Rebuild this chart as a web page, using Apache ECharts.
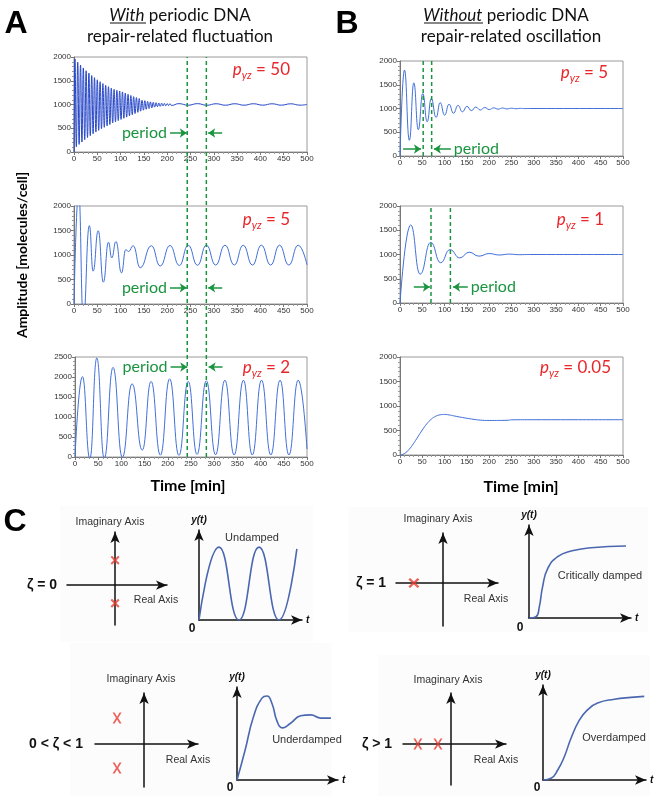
<!DOCTYPE html>
<html><head><meta charset="utf-8">
<script src="https://cdn.jsdelivr.net/npm/echarts@6/dist/echarts.min.js"></script>
<style>html,body{margin:0;padding:0;background:#fff}#c{width:662px;height:802px}</style>
</head><body><div id="c"></div><script>
// ---------- DATA ----------
const timeMax = 500;
// Panel A, p_yz = 50  [time (min), amplitude]
const ampA50 = [[0,0],[2,1960],[5,110],[8,1890],[11,160],[14,1830],[17,210],[20,1770],[23,260],[26,1710],[29,305],[32,1660],[35,345],[38,1610],[41,385],[44,1565],[47,420],[50,1520],[53,455],[56,1480],[59,490],[62,1440],[65,520],[68,1405],[71,550],[74,1375],[77,580],[80,1345],[83,610],[86,1320],[89,635],[92,1300],[95,660],[98,1285],[101,685],[104,1265],[107,710],[110,1240],[113,735],[116,1215],[119,760],[122,1190],[125,785],[128,1165],[131,810],[134,1145],[137,835],[140,1125],[143,860],[146,1090],[149,880],[152,1080],[155,900],[158,1065],[161,915],[164,1055],[167,930],[170,1045],[173,945],[176,1038],[179,955],[182,1032],[185,962],[188,1028],[191,968],[194,1024],[197,973],[200,1020],[203,977],[206,1018],[209,980],[225,1018],[245,985],[265,1018],[285,984],[305,1016],[325,985],[345,1016],[365,985],[385,1016],[405,986],[425,1015],[445,986],[465,1015],[485,986],[500,1000]];
// Panel A, p_yz = 5
const ampA5 = [[0,0],[10,2300],[20,-300],[33,1600],[41,670],[52,1495],[63,445],[74,1260],[81,940],[90,1275],[102,635],[111,1110],[117,1070],[127,1190],[142,740],[166,1190],[185,775],[206,1195],[226,785],[245,1200],[265,790],[284,1200],[304,795],[324,1200],[344,795],[363,1200],[383,795],[402,1200],[422,795],[441,1200],[461,795],[481,1200],[500,800]];
// Panel A, p_yz = 2
const ampA2 = [[0,0],[16,2010],[32,-40],[47,2475],[63,-40],[82,2240],[102,-10],[123,1830],[145,170],[164,1890],[184,45],[204,1955],[224,40],[244,1890],[263,65],[283,1905],[303,55],[323,1920],[343,50],[363,1920],[382,50],[402,1920],[422,50],[442,1920],[461,50],[481,1920],[500,200]];
// Panel B, p_yz = 5
const ampB5 = [[0,0],[10,1810],[21,330],[31,1540],[41,555],[51,1315],[61,720],[70,1210],[81,810],[90,1125],[100,860],[110,1090],[120,900],[130,1065],[140,930],[150,1045],[160,955],[170,1030],[180,968],[190,1020],[200,978],[210,1014],[220,986],[230,1010],[240,991],[250,1006],[260,995],[270,1003],[280,998],[290,1000],[500,1000]];
// Panel B, p_yz = 1
const ampB1 = [[0,0],[24,1610],[45,595],[69,1250],[91,830],[112,1100],[134,930],[155,1047],[177,966],[200,1020],[222,990],[245,1008],[267,996],[290,1000],[500,1000]];
// Panel B, p_yz = 0.05
const ampB005 = [[0,0],[10,30],[20,110],[30,230],[40,370],[50,510],[60,635],[70,730],[80,790],[90,820],[100,828],[110,818],[120,800],[140,765],[160,735],[180,712],[200,705],[240,708],[250,718],[300,720],[400,720],[500,720]];
// period markers (min)
const periodA = [243, 284];
const periodB5 = [52, 71];
const periodB1 = [69.5, 113];
const pyzLabels = ['50', '5', '2', '5', '1', '0.05'];
// Panel C: poles [real, imaginary]
const polesUndamped = [[0, 0.47], [0, -0.34]];
const polesCritical = [[-0.62, 0]];
const polesUnder = [[-0.55, 0.51], [-0.55, -0.47]];
const polesOver = [[-0.69, 0], [-0.27, 0]];
// Panel C: step responses [t, y]
const respUndamped = [[0,0],[1.94,0.81],[3.88,0],[5.83,0.81],[7.77,0],[9.5,0.79]];
const respCritical = [[0,0],[0.69,0.014],[1.01,0.12],[1.34,0.34],[1.83,0.53],[2.81,0.66],[4.12,0.72],[6.08,0.756],[9.51,0.774]];
const respUnder = [[0,0],[0.8,0.32],[1.63,0.68],[2.47,0.88],[2.97,0.903],[3.47,0.82],[3.97,0.63],[4.47,0.56],[5.3,0.61],[6.3,0.69],[7.3,0.70],[8.3,0.665],[9.3,0.665]];
const respOver = [[0,0],[0.78,0.018],[1.43,0.105],[2.07,0.245],[2.72,0.44],[3.53,0.63],[4.34,0.74],[5.3,0.81],[6.93,0.85],[8.55,0.87],[9.83,0.88]];

// ---------- STYLE ----------
const GREEN = '#1b9440', RED = '#e8262a', BLUE = '#4170d8', DARKBLUE = '#2747c8', CBLUE = '#4a67b0';
const TFONT = 'Lato';
const chart = echarts.init(document.getElementById('c'), null, {renderer:'canvas'});

const grids = [
  {left:74, top:57, width:233, height:95},    //0 A50
  {left:74, top:206, width:233, height:98},   //1 A5
  {left:75, top:357, width:232, height:100},  //2 A2
  {left:74, top:57, width:233, height:400},   //3 A overlay
  {left:400, top:61, width:223, height:95},   //4 B5
  {left:400, top:206, width:223, height:97},  //5 B1
  {left:400, top:357, width:223, height:98},  //6 B005
  {left:67, top:532, width:100, height:93},   //7 pole Q1
  {left:396, top:533, width:102, height:93},  //8 pole Q2
  {left:95, top:693, width:103, height:94},   //9 pole Q3
  {left:403, top:693, width:103, height:92},  //10 pole Q4
  {left:199, top:530, width:103, height:90},  //11 y(t) Q1
  {left:529, top:525, width:102, height:93},  //12 y(t) Q2
  {left:237, top:687, width:101, height:93},  //13 y(t) Q3
  {left:543, top:685, width:103, height:95}   //14 y(t) Q4
].map((g,i)=> i<7 && i!==3 ? Object.assign({show:true, borderColor:'#9a9a9a', borderWidth:1, backgroundColor:'#fff'}, g) : g);

const xAxes = [], yAxes = [];
function dataAxes(gi, ymax, show) {
  const common = {
    gridIndex: gi, type:'value', show: show,
    axisLine:{show:true, onZero:false, lineStyle:{color:'#777', width:1}},
    axisTick:{show:true, length:3, lineStyle:{color:'#777'}},
    minorTick:{show:true, splitNumber:5, length:2, lineStyle:{color:'#999'}},
    axisLabel:{fontSize:8, color:'#333', fontFamily:'Liberation Sans', margin:3, showMinLabel:true, showMaxLabel:true,
      formatter: v => String(v)},
    splitLine:{show:false}
  };
  xAxes.push(Object.assign({}, common, {min:0, max:timeMax, interval:50}));
  yAxes.push(Object.assign({}, common, {min:0, max:ymax, interval:500}));
}
dataAxes(0, 2000, true);
dataAxes(1, 2000, true);
dataAxes(2, 2500, true);
dataAxes(3, 1, false);
dataAxes(4, 2000, true);
dataAxes(5, 2000, true);
dataAxes(6, 2000, true);

function poleAxes(gi, xr, yr) {
  const ax = {type:'value', gridIndex:gi,
    axisLine:{show:true, onZero:true, symbol:['none','arrow'], symbolSize:[7,11], lineStyle:{color:'#111', width:1.5}},
    axisTick:{show:false}, axisLabel:{show:false}, splitLine:{show:false}};
  xAxes.push(Object.assign({}, ax, {min:xr[0], max:xr[1]}));
  yAxes.push(Object.assign({}, ax, {min:yr[0], max:yr[1]}));
}
poleAxes(7, [-1, 1.08], [-0.75, 1]);
poleAxes(8, [-1, 1.17], [-0.86, 1]);
poleAxes(9, [-1, 1.1], [-0.84, 1]);
poleAxes(10, [-1, 1.15], [-0.8, 1]);

function respAxes(gi) {
  const ax = {type:'value', gridIndex:gi,
    axisLine:{show:true, onZero:false, symbol:['none','arrow'], symbolSize:[7,11], lineStyle:{color:'#111', width:1.5}},
    axisTick:{show:false}, axisLabel:{show:false}, splitLine:{show:false},
    nameTextStyle:{fontSize:10, fontWeight:'bold', fontStyle:'italic', color:'#111', fontFamily:'Liberation Sans'}};
  xAxes.push(Object.assign({}, ax, {min:0, max:10, name:'t', nameGap:4}));
  yAxes.push(Object.assign({}, ax, {min:0, max:1, name:'y(t)', nameGap:5}));
}
[11,12,13,14].forEach(respAxes);

const series = [];
function tsLine(gi, data, monotone, color) {
  const s = {type:'line', xAxisIndex:gi, yAxisIndex:gi, data:data, showSymbol:false, smooth:true,
    lineStyle:{color:color || BLUE, width:1}, clip:true, silent:true, z:3};
  if (monotone) s.smoothMonotone = 'x';
  series.push(s);
  return s;
}
function vLine(gi, t, top) {
  series.push({type:'line', xAxisIndex:gi, yAxisIndex:gi, data:[[t,0],[t,top]], showSymbol:false,
    lineStyle:{color:GREEN, width:1.5, type:[4,3]}, silent:true, z:4});
}
function arrows(s, yv, right, left, labelOnRight) {
  const lbl = {show:true, position:'start', formatter:'period', color:GREEN, fontSize:16, fontFamily:TFONT, distance:3};
  s.markLine = {silent:true, symbol:['none','arrow'], symbolSize:[7,7], animation:false,
    lineStyle:{color:GREEN, width:1.5, type:'solid'},
    data:[
      [{coord:[right[0], yv], label: labelOnRight ? {show:false} : lbl}, {coord:[right[1], yv]}],
      [{coord:[left[0], yv], label: labelOnRight ? lbl : {show:false}}, {coord:[left[1], yv]}]
    ]};
}
arrows(tsLine(0, ampA50, true, DARKBLUE), 400, [206,242], [318,288], false);
arrows(tsLine(1, ampA5, true), 330, [206,242], [318,288], false);
arrows(tsLine(2, ampA2, true), 2250, [206,242], [318,288], false);
periodA.forEach(t => vLine(3, t, 1));
arrows(tsLine(4, ampB5, true), 147, [7,47], [114,76], true);
periodB5.forEach(t => vLine(4, t, 2000));
arrows(tsLine(5, ampB1, true), 330, [31,67], [152,119], true);
periodB1.forEach(t => vLine(5, t, 2000));
tsLine(6, ampB005, false);

const boldX = 'path://M0,1.6L1.6,0L5,3.4L8.4,0L10,1.6L6.6,5L10,8.4L8.4,10L5,6.6L1.6,10L0,8.4L3.4,5Z';
const letterX = 'path://M0,0L2.3,0L5,4.5L7.7,0L10,0L6.2,6L10,12L7.7,12L5,7.5L2.3,12L0,12L3.8,6Z';
function poles(gi, data, sym, size) {
  series.push({type:'scatter', xAxisIndex:gi, yAxisIndex:gi, data:data, symbol:sym, symbolSize:size,
    itemStyle:{color:'#e63b2e'}, silent:true, z:5});
}
poles(7, polesUndamped, boldX, [9,9]);
poles(8, polesCritical, boldX, [11,10]);
poles(9, polesUnder, letterX, [9,11]);
poles(10, polesOver, letterX, [9,11]);
function resp(gi, data, mono) {
  const s = {type:'line', xAxisIndex:gi, yAxisIndex:gi, data:data, showSymbol:false, smooth:true,
    lineStyle:{color:CBLUE, width:1.6}, silent:true};
  if (mono) s.smoothMonotone = 'x';
  series.push(s);
}
resp(11, respUndamped, true);
resp(12, respCritical, false);
resp(13, respUnder, false);
resp(14, respOver, false);

// ---------- TEXT ----------
function pyzTitle(x, y, val) {
  return {text:'{p|p}{s|yz}{n| = ' + val + '}', left:x, top:y, textAlign:'right', textVerticalAlign:'middle', padding:0,
    textStyle:{fontWeight:'normal', rich:{
      p:{fontSize:17, fontStyle:'italic', fontWeight:'normal', color:RED, fontFamily:TFONT, lineHeight:22},
      s:{fontSize:11, fontStyle:'italic', fontWeight:'normal', color:RED, fontFamily:TFONT, lineHeight:8, verticalAlign:'bottom'},
      n:{fontSize:17, fontWeight:'normal', color:RED, fontFamily:TFONT, lineHeight:22}}}};
}
const hdr = {fontSize:17, fontWeight:'normal', color:'#111', fontFamily:TFONT};
const titles = [
  {text:'{i|With}{n| periodic DNA}', left:180, top:16, textAlign:'center', textVerticalAlign:'middle', padding:0,
   textStyle:{fontWeight:'normal', rich:{i:Object.assign({fontStyle:'italic'}, hdr), n:hdr}}},
  {text:'repair-related fluctuation', left:180, top:37, textAlign:'center', textVerticalAlign:'middle', padding:0, textStyle:hdr},
  {text:'{i|Without}{n| periodic DNA}', left:506, top:16, textAlign:'center', textVerticalAlign:'middle', padding:0,
   textStyle:{fontWeight:'normal', rich:{i:Object.assign({fontStyle:'italic'}, hdr), n:hdr}}},
  {text:'repair-related oscillation', left:511, top:37, textAlign:'center', textVerticalAlign:'middle', padding:0, textStyle:hdr},
  pyzTitle(290, 70, pyzLabels[0]),
  pyzTitle(290, 220, pyzLabels[1]),
  pyzTitle(290, 368, pyzLabels[2]),
  pyzTitle(608, 73, pyzLabels[3]),
  pyzTitle(604, 220, pyzLabels[4]),
  pyzTitle(611, 368, pyzLabels[5])
];

function txt(x, y, s, size, o) {
  o = o || {};
  const al = o.align || 'center';
  return {type:'text', x:x, y:y, rotation:o.rot || 0, z:100,
    style:{text:s, fill:o.color || '#222', fontSize:size, fontFamily:o.family || 'Liberation Sans',
      fontWeight:o.weight || 'normal', fontStyle:o.style || 'normal',
      align:al, verticalAlign:'middle', textAlign:al, textVerticalAlign:'middle'}};
}
function line(x1, y1, x2, y2, c, w) {
  return {type:'line', shape:{x1:x1, y1:y1, x2:x2, y2:y2}, style:{stroke:c, lineWidth:w}, z:100};
}
function bg(x, y, w, h) {
  return {type:'rect', shape:{x:x, y:y, width:w, height:h}, style:{fill:'#fcfcfc'}, z:-10};
}
const graphics = [
  bg(60, 506, 253, 136), bg(348, 507, 300, 125), bg(70, 643, 262, 153), bg(378, 655, 272, 141),
  txt(16, 24, 'A', 32, {weight:'bold', family:'Liberation Sans', color:'#000'}),
  txt(347, 24, 'B', 32, {weight:'bold', family:'Liberation Sans', color:'#000'}),
  txt(15, 522, 'C', 32, {weight:'bold', family:'Liberation Sans', color:'#000'}),
  line(110, 23, 146, 23, '#111', 1),
  line(424, 23, 483, 23, '#111', 1),
  txt(22, 255, 'Amplitude [molecules/cell]', 14, {weight:'bold', family:TFONT, color:'#000', rot:Math.PI/2}),
  txt(188, 486, 'Time [min]', 16, {weight:'bold', family:TFONT, color:'#000'}),
  txt(521, 487, 'Time [min]', 16, {weight:'bold', family:TFONT, color:'#000'}),
  // C labels
  txt(110, 522, 'Imaginary Axis', 10.5, {color:'#333'}),
  txt(438, 519, 'Imaginary Axis', 10.5, {color:'#333'}),
  txt(141, 679, 'Imaginary Axis', 10.5, {color:'#333'}),
  txt(448, 680, 'Imaginary Axis', 10.5, {color:'#333'}),
  txt(156, 600, 'Real Axis', 10.5, {color:'#333'}),
  txt(486, 599, 'Real Axis', 10.5, {color:'#333'}),
  txt(188, 760, 'Real Axis', 10.5, {color:'#333'}),
  txt(496, 760, 'Real Axis', 10.5, {color:'#333'}),
  txt(42, 585, 'ζ = 0', 14, {weight:'bold', color:'#111'}),
  txt(371, 583, 'ζ = 1', 14, {weight:'bold', color:'#111'}),
  txt(56, 744, '0 < ζ < 1', 14, {weight:'bold', color:'#111'}),
  txt(377, 744, 'ζ > 1', 14, {weight:'bold', color:'#111'}),
  txt(252, 538, 'Undamped', 11, {color:'#333'}),
  txt(600, 576, 'Critically damped', 11, {color:'#333'}),
  txt(307, 740, 'Underdamped', 11, {color:'#333'}),
  txt(614, 738, 'Overdamped', 11, {color:'#333'}),
  txt(192, 629, '0', 12, {weight:'bold', color:'#111'}),
  txt(520, 628, '0', 12, {weight:'bold', color:'#111'}),
  txt(230, 788, '0', 12, {weight:'bold', color:'#111'}),
  txt(537, 788, '0', 12, {weight:'bold', color:'#111'})
];

chart.setOption({
  animation:false,
  backgroundColor:'#fff',
  title:titles,
  grid:grids,
  xAxis:xAxes,
  yAxis:yAxes,
  series:series,
  graphic:{elements:graphics}
});
</script></body></html>
